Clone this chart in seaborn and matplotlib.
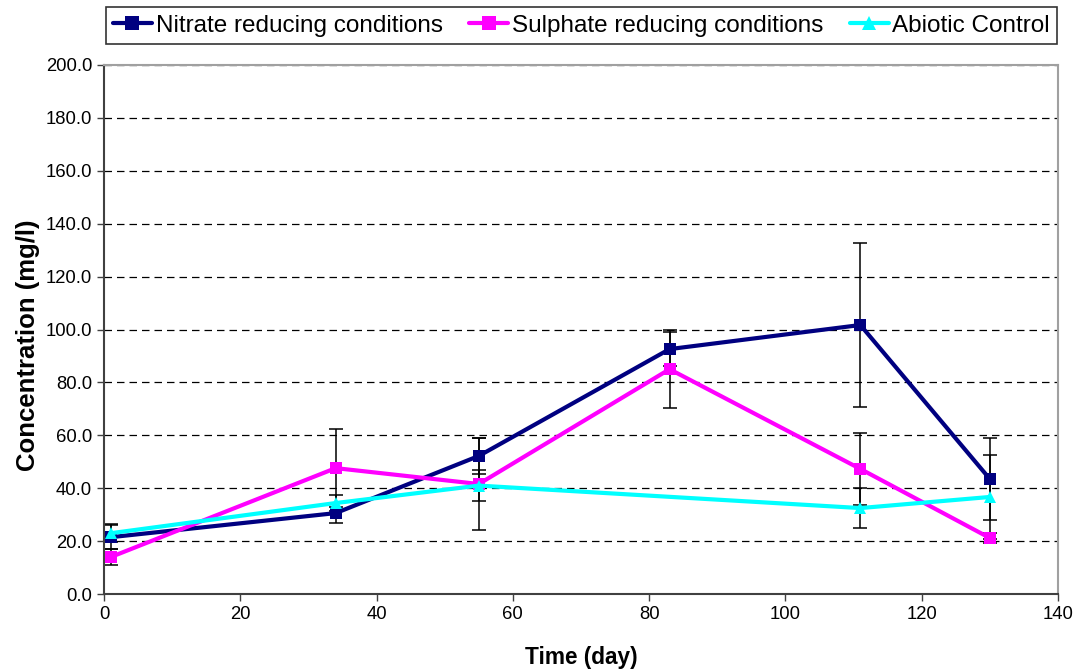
import numpy as np
import pandas as pd
import matplotlib
matplotlib.use("Agg")
import matplotlib.pyplot as plt
import seaborn as sns
from matplotlib.lines import Line2D

# Sampling days
days = [1, 34, 55, 83, 111, 130]

# Mean concentrations (mg/l)
nitrate = [21.5, 30.6, 52.2, 92.6, 101.7, 43.5]
sulphate = [14.0, 47.6, 41.6, 85.0, 47.3, 21.2]
abiotic = [23.0, 34.4, 41.0, None, 32.5, 36.7]

# Standard deviations (mg/l)
nitrate_err = [4.5, 3.8, 6.8, 6.4, 31.0, 15.5]
sulphate_err = [3.0, 14.8, 17.4, 14.7, 13.6, 2.0]
abiotic_err = [3.5, 3.0, 6.0, None, 7.5, 15.8]

series_names = ["Nitrate reducing conditions",
                "Sulphate reducing conditions",
                "Abiotic Control"]
colors = ["#000080", "#FF00FF", "#00FFFF"]
markers = ["s", "s", "^"]

sns.set_theme(style="white")
plt.rcParams["font.family"] = ["Liberation Sans", "DejaVu Sans"]
plt.rcParams["text.color"] = "black"
plt.rcParams["axes.labelcolor"] = "black"

fig = plt.figure(figsize=(10.78, 6.72), dpi=100)
ax = fig.add_axes([0.0965, 0.116, 0.8849, 0.7873])

frames = []
for name, vals, errs in zip(series_names,
                            [nitrate, sulphate, abiotic],
                            [nitrate_err, sulphate_err, abiotic_err]):
    df = pd.DataFrame({"day": days, "conc": vals, "err": errs, "series": name})
    frames.append(df.dropna())
data = pd.concat(frames, ignore_index=True)

# error bars first, then the lines on top
for name in series_names:
    d = data[data.series == name]
    ax.errorbar(d["day"], d["conc"], yerr=d["err"], fmt="none",
                ecolor="black", elinewidth=1.1, capsize=5, capthick=1.1, zorder=2)

sns.lineplot(data=data, x="day", y="conc", hue="series", style="series",
             hue_order=series_names, style_order=series_names,
             palette=colors, markers=dict(zip(series_names, markers)),
             dashes=False, markersize=9, linewidth=3, markeredgewidth=0,
             ax=ax, legend=False, zorder=3, sort=False)

ax.set_xlim(0, 140)
ax.set_ylim(0, 200)
ax.set_xticks(np.arange(0, 141, 20))
ax.set_yticks(np.arange(0, 201, 20))
ax.set_yticklabels([f"{v:.1f}" for v in np.arange(0, 201, 20)])
ax.tick_params(axis="both", which="major", labelsize=13.3, direction="out",
               length=5, width=1, bottom=True, left=True,
               colors="#404040", labelcolor="black")

for y in np.arange(20, 201, 20):
    ax.axhline(y, color="black", linestyle=(0, (6, 4)), linewidth=0.9, zorder=1)

for side in ["left", "bottom"]:
    ax.spines[side].set_color("#404040")
    ax.spines[side].set_linewidth(1.5)
for side in ["top", "right"]:
    ax.spines[side].set_color("#A0A0A0")
    ax.spines[side].set_linewidth(1.5)

ax.set_xlabel("Time (day)", fontsize=16.3, fontweight="bold", labelpad=17,
              color="black")
ax.set_ylabel("Concentration (mg/l)", fontsize=18.5, fontweight="bold",
              color="black")
ax.yaxis.set_label_coords(-0.067, 0.471)

handles = [Line2D([0], [0], color=c, marker=m, linewidth=3, markersize=10,
                  markeredgewidth=0) for c, m in zip(colors, markers)]
leg = fig.legend(handles, series_names, loc="upper center", ncol=3,
                 bbox_to_anchor=(0.5395, 1.0), fontsize=17.5, frameon=True,
                 fancybox=False, edgecolor="black", handlelength=1.6,
                 handletextpad=0.15, columnspacing=1.1, borderpad=0.3,
                 borderaxespad=0.3, labelcolor="black")
leg.get_frame().set_linewidth(1.2)

fig.savefig("out.png", dpi=100, facecolor="white")
